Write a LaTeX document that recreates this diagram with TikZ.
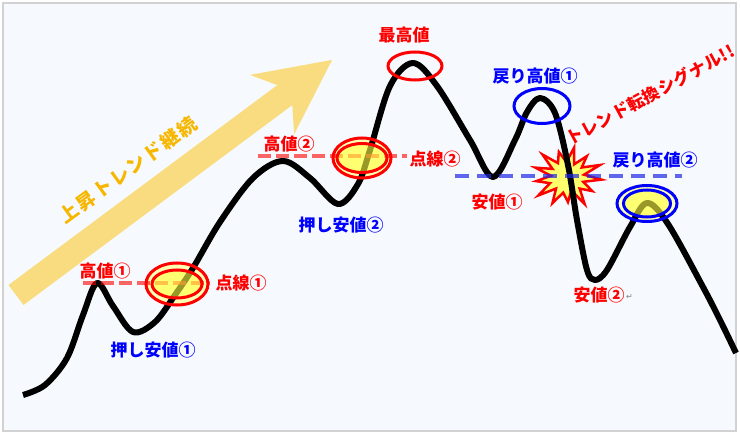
\documentclass[tikz,border=0pt]{standalone}
\usepackage{fontspec}
\newfontfamily\jp{Noto Sans CJK JP}
\newfontfamily\jpsp{Noto Sans CJK JP}[LetterSpace=10]
\newfontfamily\jpsig{Noto Sans CJK JP}[LetterSpace=3]
\newfontfamily\dv{DejaVu Sans}
\definecolor{bgc}{RGB}{246,250,254}
\definecolor{framec}{RGB}{210,210,210}
\definecolor{arrowc}{RGB}{250,220,128}
\definecolor{trendtxt}{RGB}{247,183,0}
\definecolor{yel}{RGB}{255,255,70}
\definecolor{paleyel}{RGB}{255,255,180}
\definecolor{starfill}{RGB}{255,255,110}
\definecolor{labred}{RGB}{255,0,0}
\definecolor{labblue}{RGB}{0,0,255}
\definecolor{dashblue}{RGB}{30,40,230}
\begin{document}
\begin{tikzpicture}[x=1pt,y=-1pt,
  lab/.style={font=\jp\bfseries\fontsize{17}{18}\selectfont, inner sep=0pt},
  redlab/.style={lab,text=labred},
  bluelab/.style={lab,text=labblue},
  ring/.style={line width=3pt},
  reddash/.style={draw=red, opacity=0.6, line width=4.5pt, dash pattern=on 13pt off 5pt},
  bluedash/.style={draw=dashblue, opacity=0.7, line width=4.5pt, dash pattern=on 14pt off 8pt},
  innerfill/.style={fill=yel, fill opacity=0.6},
  outerfill/.style={fill=paleyel}
]
\useasboundingbox (0,0) rectangle (740,436);
\fill[white] (0,0) rectangle (740,436);
\filldraw[fill=bgc, draw=framec, line width=1.5pt] (3,3) rectangle (736,431);

% big trend arrow
\fill[arrowc] (8.5,285) -- (277.3,85.1) -- (249.9,74.9) -- (332.1,59.9) -- (294.1,134.3) -- (292.3,105.1) -- (23.5,305) -- cycle;
\node[font=\jpsp\bfseries\fontsize{19}{20}\selectfont, text=trendtxt, rotate=36, inner sep=0pt] (trend) at (128,170) {上昇トレンド継続};

% explosion star
\begin{scope}[shift={(567,177)}, xscale=1.15]
\filldraw[fill=starfill, draw=red, line width=2.5pt, line join=miter]
 (5:30) -- (18.8:15) -- (32.7:26) -- (46.5:16) -- (60.4:31) -- (74.2:14) -- (88.1:25) -- (102:16) -- (115.8:29) -- (129.6:15) -- (143.5:31) -- (157.3:16) -- (171.2:27) -- (185:14) -- (198.8:29) -- (212.7:15) -- (226.5:31) -- (240.4:16) -- (254.2:26) -- (268:15) -- (281.9:30) -- (295.8:14) -- (309.6:27) -- (323.4:16) -- (337.3:31) -- (351.2:15) -- cycle;
\end{scope}

% outer pale fills of double rings
\fill[outerfill] (177,284) ellipse [x radius=31, y radius=21];
\fill[outerfill] (362,158) ellipse [x radius=29, y radius=20];
\fill[outerfill] (647,203.5) ellipse [x radius=30, y radius=18];

% price curve
\draw[line width=6pt, line join=round] plot[smooth, tension=0.55] coordinates {
 (23,395) (45,385) (67,358) (83,315) (97,283) (113,306) (133,332) (155,322)
 (175,295) (193,268) (220,222) (253,178) (283,161) (310,178) (338,204)
 (358,184) (370,150) (390,86) (413,63) (437,86) (470,140) (493,177)
 (515,140) (527,112) (540,98) (555,113) (568,165) (577,220) (587,270)
 (595,280) (607,270) (630,227) (647,203) (668,224) (703,287) (720,320) (736,353)};

% dashed lines
\coordinate (d1a) at (83,283);  \coordinate (d1b) at (210,283);
\coordinate (d2a) at (258,156); \coordinate (d2b) at (407,156);
\coordinate (d3a) at (455,176); \coordinate (d3b) at (682,176);
\draw[reddash] (d1a) -- (d1b);
\draw[reddash] (d2a) -- (d2b);
\draw[bluedash] (d3a) -- (d3b);

% inner yellow fills
\fill[innerfill] (177,284) ellipse [x radius=25, y radius=14];
\fill[innerfill] (362,158) ellipse [x radius=25, y radius=14.5];
\fill[innerfill] (647,203.5) ellipse [x radius=23.5, y radius=13.5];

% rings
\draw[ring, red] (177,284) ellipse [x radius=31, y radius=21];
\draw[ring, red] (177,284) ellipse [x radius=25, y radius=14];
\draw[ring, red] (362,158) ellipse [x radius=29, y radius=20];
\draw[ring, red] (362,158) ellipse [x radius=25, y radius=14.5];
\draw[ring, red] (415,66) ellipse [x radius=27, y radius=14];
\draw[ring, blue] (542,106) ellipse [x radius=28, y radius=17.5];
\draw[ring, blue] (647,203.5) ellipse [x radius=30, y radius=18];
\draw[ring, blue] (647,203.5) ellipse [x radius=23.5, y radius=13.5];

% labels
\node[redlab] (hi1) at (105,271) {高値①};
\node[redlab] (dot1) at (241,283) {点線①};
\node[bluelab] (low1) at (153,350) {押し安値①};
\node[redlab] (hi2) at (289,144) {高値②};
\node[redlab] (dot2) at (435,159) {点線②};
\node[bluelab] (low2) at (341,225) {押し安値②};
\node[redlab] (top) at (404,35) {最高値};
\node[bluelab] (rhi1) at (535,76) {戻り高値①};
\node[redlab] (lo1) at (497,202) {安値①};
\node[bluelab] (rhi2) at (655,160) {戻り高値②};
\node[redlab] (lo2) at (599,295) {安値②};
\node[font=\dv\fontsize{8}{9}\selectfont, text=gray, inner sep=0pt, anchor=west] (ret) at (626,297) {↵};
\node[font=\jpsig\bfseries\fontsize{17}{18}\selectfont, text=labred, rotate=28.5, inner sep=0pt] (signal) at (650,95) {トレンド転換シグナル!!};
\end{tikzpicture}
\end{document}
